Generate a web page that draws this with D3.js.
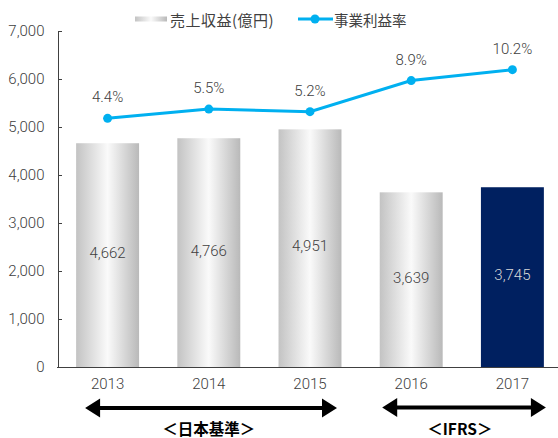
<!DOCTYPE html>
<html><head><meta charset="utf-8">
<script src="https://cdn.jsdelivr.net/npm/d3@7"></script>
<style>
html,body{margin:0;padding:0;background:#fff;}
svg{display:block;}
</style></head>
<body>
<svg id="chart" width="558" height="438"></svg>
<script>
const years = ["2013","2014","2015","2016","2017"];
const revenue = [4662,4766,4951,3639,3745];
const margin = [4.4,5.5,5.2,8.9,10.2];
const yTicks = [0,1000,2000,3000,4000,5000,6000,7000];
const seriesNames = ["売上収益(億円)","事業利益率"];
const periodLabels = ["＜日本基準＞","＜IFRS＞"];

const svg = d3.select("#chart");
const txt = "#404040";
const numFont = "Roboto, 'Liberation Sans', sans-serif";
const jpFont = "'Noto Sans CJK JP', sans-serif";

const x = d3.scaleBand().domain(years).range([57,563]).paddingInner(0.378).paddingOuter(0.189);
const y = d3.scaleLinear().domain([0,7000]).range([367,31]);
const yR = d3.scaleLinear().domain([-25.2,14.8]).range([367,31]);

const defs = svg.append("defs");
const grad = defs.append("linearGradient").attr("id","barGrad").attr("x1",0).attr("x2",1).attr("y1",0).attr("y2",0);
grad.append("stop").attr("offset","0%").attr("stop-color","#c3c3c3");
grad.append("stop").attr("offset","50%").attr("stop-color","#fafafa");
grad.append("stop").attr("offset","100%").attr("stop-color","#b9b9b9");

// bars
svg.append("g").selectAll("rect").data(years).join("rect")
  .attr("x",d=>x(d)).attr("width",x.bandwidth())
  .attr("y",(d,i)=>y(revenue[i])).attr("height",(d,i)=>y(0)-y(revenue[i]))
  .attr("fill",(d,i)=>i===4?"#002060":"url(#barGrad)");

// y axis
const yAxis = d3.axisLeft(y).tickValues(yTicks).tickFormat(d3.format(",")).tickSizeInner(-4).tickSizeOuter(-4).tickPadding(13);
const gy = svg.append("g").attr("transform","translate(57.5,0)").call(yAxis);
gy.selectAll("path,line").attr("stroke",txt).attr("shape-rendering","crispEdges");
gy.selectAll("text").attr("fill",txt).style("font-family",numFont).style("font-weight","300").style("font-size","15px");

// x axis
const xAxis = d3.axisBottom(x).tickSize(0).tickSizeOuter(0).tickPadding(11);
const gx = svg.append("g").attr("transform","translate(0,367.5)").call(xAxis);
gx.select("path").attr("d","M57,0H558").attr("stroke",txt).attr("shape-rendering","crispEdges");
gx.selectAll("text").attr("fill",txt).style("font-family",numFont).style("font-weight","300").style("font-size","15px");

// bar value labels
svg.append("g").selectAll("text").data(years).join("text")
  .attr("x",d=>x(d)+x.bandwidth()/2)
  .attr("y",(d,i)=>(y(revenue[i])+y(0))/2-2)
  .attr("text-anchor","middle").attr("dominant-baseline","central")
  .attr("fill",(d,i)=>i===4?"#d9d9d9":txt)
  .style("font-family",numFont).style("font-weight","300").style("font-size","15px")
  .text((d,i)=>d3.format(",")(revenue[i]));

// line
const cx = d=>x(d)+x.bandwidth()/2;
const line = d3.line().x((d,i)=>cx(years[i])).y(d=>yR(d));
svg.append("path").datum(margin).attr("d",line).attr("fill","none").attr("stroke","#00b0f0").attr("stroke-width",3);
svg.append("g").selectAll("circle").data(margin).join("circle")
  .attr("cx",(d,i)=>cx(years[i])).attr("cy",d=>yR(d)).attr("r",4.5).attr("fill","#00b0f0");
svg.append("g").selectAll("text").data(margin).join("text")
  .attr("x",(d,i)=>cx(years[i])).attr("y",d=>yR(d)-21)
  .attr("text-anchor","middle").attr("dominant-baseline","central")
  .attr("fill",txt).style("font-family",numFont).style("font-weight","300").style("font-size","15px")
  .text(d=>d3.format(".1f")(d)+"%");

// legend
const lg = svg.append("g");
lg.append("rect").attr("x",135).attr("y",16.5).attr("width",32).attr("height",5).attr("fill","url(#barGrad)");
lg.append("text").attr("x",170).attr("y",19).attr("dominant-baseline","central").attr("fill",txt)
  .style("font-family",jpFont).style("font-size","15px").style("letter-spacing","0.5px").text(seriesNames[0]);
lg.append("line").attr("x1",298).attr("x2",333).attr("y1",19).attr("y2",19).attr("stroke","#00b0f0").attr("stroke-width",3);
lg.append("circle").attr("cx",315).attr("cy",19).attr("r",4.5).attr("fill","#00b0f0");
lg.append("text").attr("x",334).attr("y",19).attr("dominant-baseline","central").attr("fill",txt)
  .style("font-family",jpFont).style("font-size","14.5px").text(seriesNames[1]);

// period arrows
function arrow(x1,x2,yy){
  const hl=15, hh=9.5, sw=2;
  const p = `M${x1},${yy} L${x1+hl},${yy-hh} L${x1+hl},${yy-sw} L${x2-hl},${yy-sw} L${x2-hl},${yy-hh} L${x2},${yy} L${x2-hl},${yy+hh} L${x2-hl},${yy+sw} L${x1+hl},${yy+sw} L${x1+hl},${yy+hh} Z`;
  svg.append("path").attr("d",p).attr("fill","#000");
}
arrow(cx("2013")-22.5, cx("2015")+27, 408);
arrow(cx("2016")-29, cx("2017")+33.5, 407.5);
svg.append("text").attr("x",cx("2014")).attr("y",428).attr("text-anchor","middle").attr("dominant-baseline","central")
  .attr("fill","#000").style("font-family",jpFont).style("font-weight","bold").style("font-size","15.5px").text(periodLabels[0]);
svg.append("text").attr("x",(cx("2016")+cx("2017"))/2-2).attr("y",428).attr("text-anchor","middle").attr("dominant-baseline","central")
  .attr("fill","#000").style("font-family",jpFont).style("font-weight","bold").style("font-size","15.5px").text(periodLabels[1]);
</script>
</body></html>
